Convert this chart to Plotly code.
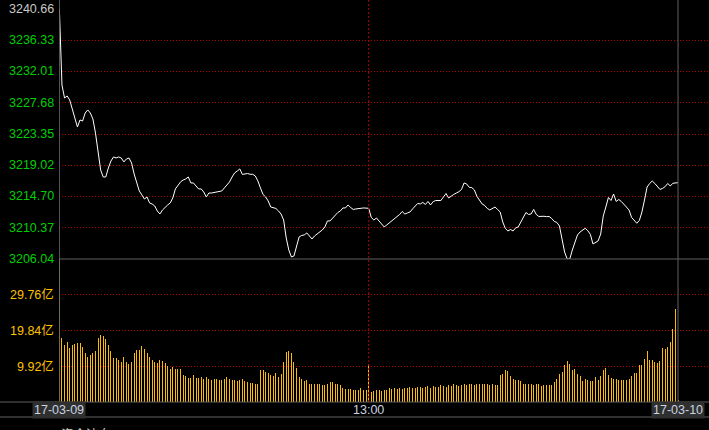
import plotly.graph_objects as go

# ---------------- data ----------------
minutes = list(range(241))
price = [3240.66, 3230.14, 3228.34, 3228.62, 3228.06, 3226.68, 3225.29, 3224.32, 3225.29, 3225.15,
         3226.26, 3226.68, 3226.26, 3225.43, 3223.49, 3221.14, 3218.37, 3217.40, 3217.40, 3218.65,
         3219.61, 3220.17, 3220.03, 3220.17, 3220.03, 3219.48, 3219.89, 3220.03, 3219.34, 3217.81,
         3216.43, 3215.46, 3214.91, 3214.35, 3214.63, 3213.80, 3213.66, 3213.38, 3212.69, 3212.27,
         3212.83, 3213.24, 3213.52, 3213.80, 3214.49, 3215.74, 3216.29, 3216.71, 3216.98, 3217.12,
         3217.40, 3216.57, 3216.57, 3216.15, 3215.74, 3215.74, 3215.32, 3214.63, 3215.18, 3215.18,
         3215.25, 3215.32, 3215.32, 3215.46, 3215.88, 3216.29, 3216.71, 3217.40, 3217.96, 3218.23,
         3218.51, 3217.75, 3217.81, 3217.88, 3217.77, 3217.77, 3217.54, 3216.85, 3215.88, 3214.98,
         3214.63, 3214.08, 3213.24, 3213.17, 3213.04, 3212.69, 3212.27, 3211.44, 3208.95, 3207.29,
         3206.32, 3206.46, 3207.84, 3209.09, 3209.30, 3209.37, 3209.65, 3209.23, 3208.81, 3209.23,
         3209.51, 3209.78, 3210.06, 3210.48, 3211.31, 3211.31, 3211.72, 3212.14, 3212.48, 3212.69,
         3213.11, 3213.11, 3213.52, 3213.17, 3212.90, 3212.97, 3213.06, 3213.06, 3213.11, 3213.06,
         3213.06, 3211.79, 3211.44, 3211.72, 3211.31, 3210.82, 3210.48, 3210.75, 3211.03, 3211.31,
         3211.58, 3211.86, 3212.21, 3212.62, 3212.27, 3212.41, 3212.55, 3212.97, 3213.31, 3213.73,
         3213.66, 3213.87, 3213.59, 3214.01, 3213.52, 3213.98, 3214.14, 3214.14, 3214.14, 3214.63,
         3215.11, 3214.49, 3214.77, 3214.98, 3215.18, 3215.36, 3215.67, 3216.57, 3216.43, 3215.97,
         3215.92, 3215.60, 3214.70, 3214.14, 3213.66, 3213.45, 3213.04, 3212.83, 3213.04, 3213.24,
         3212.90, 3212.55, 3211.17, 3210.27, 3209.92, 3210.13, 3209.92, 3210.34, 3210.48, 3211.17,
         3212.00, 3212.48, 3212.21, 3212.27, 3212.90, 3212.21, 3211.93, 3211.96, 3211.96, 3211.90,
         3211.93, 3211.65, 3211.24, 3211.10, 3210.61, 3208.81, 3207.01, 3206.04, 3206.04, 3207.29,
         3208.26, 3209.37, 3209.78, 3210.06, 3210.29, 3209.96, 3209.44, 3208.12, 3208.30, 3208.54,
         3209.51, 3212.00, 3213.24, 3214.56, 3214.14, 3215.04, 3214.01, 3214.28, 3214.01, 3213.59,
         3213.24, 3212.83, 3211.79, 3211.31, 3210.99, 3211.38, 3212.55, 3214.21, 3216.01, 3216.50,
         3216.84, 3216.50, 3216.08, 3215.67, 3215.81, 3216.06, 3216.50, 3216.15, 3216.53, 3216.53,
         3216.61]

volume = ([45.0] +
          [17.75, 15.88, 16.63, 14.94, 15.88, 16.16, 16.44, 16.35, 15.40, 13.53,
           12.60, 13.07, 13.53, 14.19, 17.75, 18.69, 18.41, 17.47, 15.88, 14.19,
           12.13, 12.13, 11.66, 11.00, 12.41, 11.00, 10.54, 11.19, 13.53, 14.47,
           14.47, 15.60, 14.75, 13.53, 12.41, 11.66, 11.00, 10.72, 11.66, 11.29,
           10.72, 9.98, 9.04, 9.60, 9.04, 9.04, 9.04, 7.63, 7.17, 6.79,
           6.79, 7.45, 6.79, 6.79] +
          [6.8, 6.5, 6.8, 6.3, 6.0, 6.3, 6.5, 6.2, 6.0, 6.5,
           6.8, 6.3, 6.0, 6.2, 5.8, 6.0, 6.5, 5.9, 5.6] +
          [5.39, 5.39, 5.11, 5.11, 8.85, 8.85, 8.38, 8.10, 7.45, 7.17,
           8.10, 6.98, 7.73, 11.10, 13.91, 14.19, 13.72, 11.10, 9.41, 6.98,
           6.32, 5.76, 6.04, 5.11, 5.11, 4.92, 4.92, 4.92, 4.64, 4.64,
           4.92, 5.48, 5.48, 4.92, 4.92, 4.64, 3.99, 3.71, 3.51, 3.71,
           3.43, 3.43, 3.43, 3.99, 3.23] +
          [3.2, 10.54] +
          [2.75, 2.95, 3.23, 3.23, 3.04, 3.43, 3.23, 3.99, 3.51, 3.99, 3.71] +
          [3.8, 3.6, 4.0, 3.9, 4.2, 3.8, 4.0, 4.3, 4.1, 3.9,
           4.2, 4.4, 4.0, 4.5, 4.3, 4.1, 4.6, 4.4, 4.2, 4.7,
           4.5, 4.9, 4.6, 4.4, 4.8, 5.0, 4.7, 4.9, 5.1, 4.8, 5.0] +
          [4.92, 5.11, 5.11, 5.11, 4.83, 5.11, 4.64, 4.83, 7.45, 7.73,
           8.85, 8.57, 7.17, 6.32, 6.04, 6.04, 5.76, 5.11, 5.11, 5.11,
           4.92, 4.64, 4.92, 4.92, 4.36, 4.83, 4.64, 4.64, 4.64, 5.57,
           6.51, 7.73, 8.38, 10.26, 11.38, 10.54, 8.85, 9.13, 7.73, 7.17,
           5.76, 6.51, 6.04, 5.76, 5.85, 6.98, 6.23] +
          [7.17, 8.85, 9.51, 7.63, 6.79, 6.32, 6.32, 6.04, 6.04, 6.04,
           6.04, 6.32, 7.17, 7.92, 7.92, 10.26, 10.26, 11.94, 14.19, 11.66,
           11.66, 11.00, 10.72, 11.38, 14.94, 14.75, 15.22, 16.63, 20.28, 25.71] +
          [0.42])

price_ticks = [3206.04, 3210.37, 3214.70, 3219.02, 3223.35, 3227.68, 3232.01, 3236.33, 3240.66]
price_labels = ["3206.04", "3210.37", "3214.70", "3219.02", "3223.35", "3227.68", "3232.01", "3236.33", "3240.66"]
vol_ticks = [9.92, 19.84, 29.76]
vol_labels = ["9.92亿", "19.84亿", "29.76亿"]
x_tick_pos = [0, 120, 240]
x_tick_labels = ["17-03-09", "13:00", "17-03-10"]
footer_text = "资金流向"

# ---------------- styling ----------------
W, H = 709, 430
ML, MT, MB = 59, 9, 28
plot_h = H - MT - MB
split = (H - MB - 259) / plot_h       # volume panel fraction
FONT = "Liberation Sans, Arial, Noto Sans CJK SC, sans-serif"
GRID = "#b00000"
AXIS = "#606060"
GREEN = "#00d000"
ORANGE = "#ffc000"
BAR = "rgba(255,190,0,0.99)"

px_per_min = 619 / 240
x_max = 240 + (W - 678) / px_per_min

fig = go.Figure()
fig.add_trace(go.Bar(x=minutes, y=volume, xaxis="x", yaxis="y2", width=1.0 / px_per_min,
                     marker=dict(color=BAR, line=dict(width=0)), showlegend=False,
                     hoverinfo="skip"))
fig.add_trace(go.Scatter(x=minutes, y=price, xaxis="x", yaxis="y", mode="lines",
                         line=dict(color="#ffffff", width=1), showlegend=False,
                         hoverinfo="skip"))

fig.update_layout(
    width=W, height=H, autosize=False,
    margin=dict(l=ML, r=0, t=MT, b=MB, pad=0),
    paper_bgcolor="#000000", plot_bgcolor="#000000",
    font=dict(family=FONT, size=12.5, color=GREEN),
    bargap=0,
    xaxis=dict(range=[-0.15, x_max], showgrid=False, zeroline=False, showline=False,
               showticklabels=False, ticks="", anchor="y2", fixedrange=True),
    yaxis=dict(domain=[split, 1], range=[3206.04, 3240.66], tickvals=price_ticks,
               showticklabels=False, ticks="", showgrid=True, gridcolor=GRID, gridwidth=1,
               griddash="1px,2px", zeroline=False, showline=False, fixedrange=True),
    yaxis2=dict(domain=[0, split], range=[0, 39.68], tickvals=vol_ticks,
                showticklabels=False, ticks="", showgrid=True, gridcolor=GRID, gridwidth=1,
                griddash="1px,2px", zeroline=False, showline=False, fixedrange=True),
)

shapes = []
top_paper = 1 + MT / plot_h
# 13:00 vertical dotted line
shapes.append(dict(type="line", xref="x", yref="paper", x0=120, x1=120, y0=0, y1=top_paper,
                   line=dict(color=GRID, width=1, dash="2px,2px"), layer="above"))
# left axis & right end line
for xv in (0, 240):
    shapes.append(dict(type="line", xref="x", yref="paper", x0=xv, x1=xv, y0=0,
                       y1=top_paper, line=dict(color=AXIS, width=1), layer="above"))
# panel separator
shapes.append(dict(type="line", xref="paper", yref="paper", x0=0, x1=1, y0=split, y1=split,
                   line=dict(color=AXIS, width=1), layer="above"))
# bottom lines
left_paper = -ML / (W - ML)
shapes.append(dict(type="line", xref="paper", yref="paper", x0=left_paper, x1=1, y0=0, y1=0,
                   line=dict(color=AXIS, width=1), layer="above"))
y417 = -(417 - (H - MB)) / plot_h
shapes.append(dict(type="line", xref="paper", yref="paper", x0=left_paper, x1=1, y0=y417, y1=y417,
                   line=dict(color=AXIS, width=1), layer="above"))
fig.update_layout(shapes=shapes)

ann = []
for v, t in zip(price_ticks, price_labels):
    col = "#c8c8c8" if v == price_ticks[-1] else GREEN
    ann.append(dict(xref="paper", yref="y", x=0, y=v, text=t, showarrow=False,
                    xanchor="right", yanchor="middle", xshift=-3,
                    font=dict(family=FONT, size=12.5, color=col)))
for v, t in zip(vol_ticks, vol_labels):
    ann.append(dict(xref="paper", yref="y2", x=0, y=v, text=t, showarrow=False,
                    xanchor="right", yanchor="middle", xshift=-3,
                    font=dict(family=FONT, size=12.5, color=ORANGE)))
y_lab = -(409.5 - (H - MB)) / plot_h
for xv, t in zip(x_tick_pos, x_tick_labels):
    boxed = t != "13:00"
    ann.append(dict(xref="x", yref="paper", x=xv, y=y_lab, text=t, showarrow=False,
                    xanchor="center", yanchor="middle",
                    bgcolor="#303030" if boxed else "rgba(0,0,0,0)", borderpad=1,
                    font=dict(family=FONT, size=12.5, color="#c8d4e0")))
y_foot = -(434 - (H - MB)) / plot_h
ann.append(dict(xref="paper", yref="paper", x=0, y=y_foot, text=footer_text, showarrow=False,
                xanchor="left", yanchor="middle",
                font=dict(family=FONT, size=12.5, color="#d0d0d0")))
fig.update_layout(annotations=ann)

fig.write_html("out.html", config={"displayModeBar": False},
               post_script="document.body.style.margin='0px';")
